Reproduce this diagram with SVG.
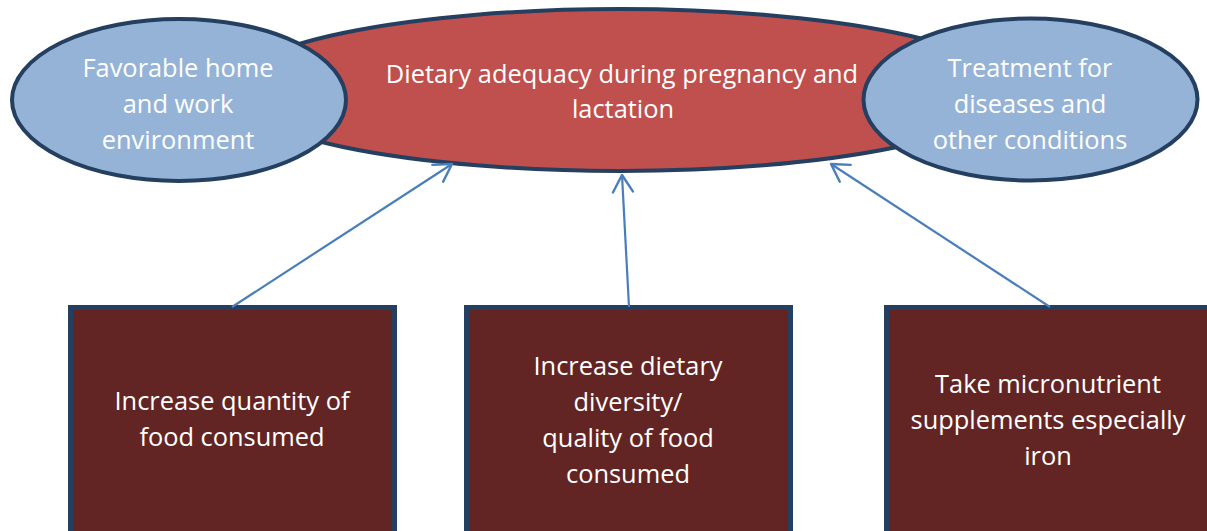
<svg xmlns="http://www.w3.org/2000/svg" width="1207" height="531" viewBox="0 0 1207 531">
<defs>
<style>
.side{fill:#95B3D7;stroke:#243F60;stroke-width:4}
.main{fill:#C0504D;stroke:#243F60;stroke-width:4}
.box{fill:#632523;stroke:#243F60;stroke-width:5}
.t{font-family:"Open Sans","Liberation Sans",sans-serif;font-size:25.4px;fill:#FFFFFF;text-anchor:middle}
.conn{stroke:#4A7EBB;stroke-width:2.2;fill:none;marker-end:url(#arr)}
</style>
<marker id="arr" markerUnits="userSpaceOnUse" markerWidth="24" markerHeight="24" refX="20" refY="12" orient="auto" viewBox="0 0 24 24">
<path d="M3,2 L20,12 L3,22" fill="none" stroke="#4A7EBB" stroke-width="2.4" stroke-linejoin="round" stroke-linecap="round"/>
</marker>
</defs>
<rect width="1207" height="531" fill="#FFFFFF"/>
<g id="main">
<ellipse class="main" cx="620" cy="90" rx="390" ry="81"/>
<text class="t" x="622" y="83">Dietary adequacy during pregnancy and</text>
<text class="t" x="623" y="118">lactation</text>
</g>
<g id="home">
<ellipse class="side" cx="179" cy="100" rx="167" ry="81"/>
<text class="t" x="178" y="77">Favorable home</text>
<text class="t" x="178" y="113">and work</text>
<text class="t" x="178" y="149">environment</text>
</g>
<g id="treatment">
<ellipse class="side" cx="1030.5" cy="99.5" rx="167" ry="81"/>
<text class="t" x="1030" y="77">Treatment for</text>
<text class="t" x="1030" y="113">diseases and</text>
<text class="t" x="1030" y="149">other conditions</text>
</g>
<g id="quantity">
<rect class="box" x="70.5" y="307.5" width="324" height="240"/>
<text class="t" x="232" y="410">Increase quantity of</text>
<text class="t" x="232" y="446">food consumed</text>
</g>
<g id="diversity">
<rect class="box" x="466.5" y="307.5" width="324" height="240"/>
<text class="t" x="628" y="375">Increase dietary</text>
<text class="t" x="628" y="411">diversity/</text>
<text class="t" x="628" y="447">quality of food</text>
<text class="t" x="628" y="483">consumed</text>
</g>
<g id="supplements">
<rect class="box" x="886.5" y="307.5" width="340" height="240"/>
<text class="t" x="1048" y="393">Take micronutrient</text>
<text class="t" x="1048" y="429">supplements especially</text>
<text class="t" x="1048" y="465">iron</text>
</g>
<g id="connectors">
<line class="conn" x1="232" y1="307" x2="452" y2="164"/>
<line class="conn" x1="629" y1="307" x2="622" y2="175"/>
<line class="conn" x1="1050" y1="307" x2="831" y2="164"/>
</g>
</svg>
